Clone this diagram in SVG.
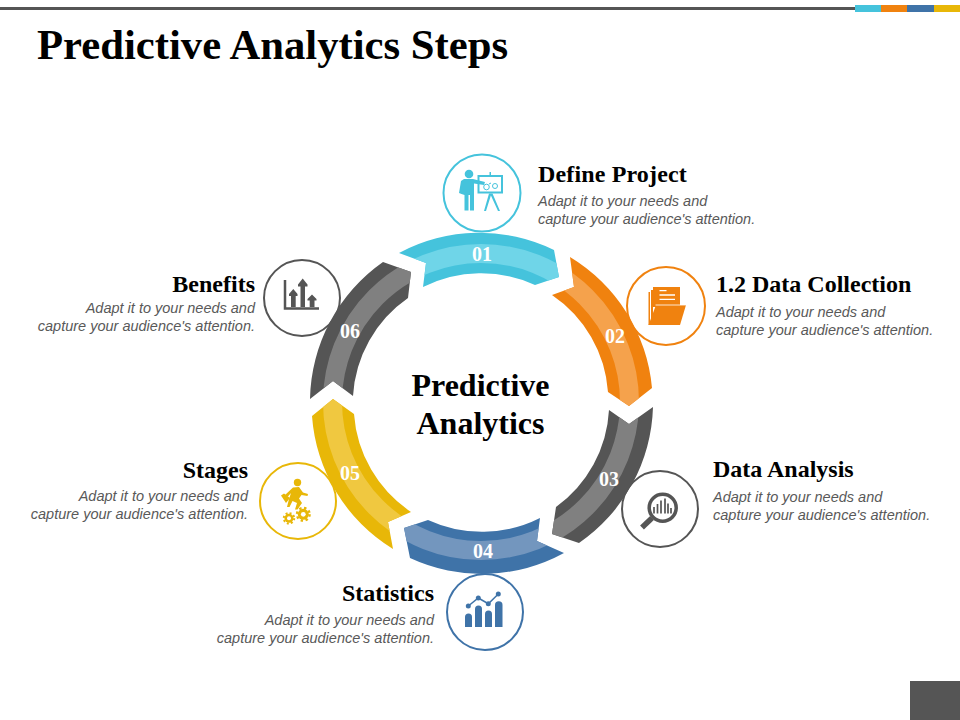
<svg xmlns="http://www.w3.org/2000/svg" width="960" height="720" viewBox="0 0 960 720">
<style>
.t{font-family:"Liberation Serif",serif;font-weight:bold;fill:#000}
.h{font-size:24px}
.b{font-family:"Liberation Sans",sans-serif;font-style:italic;font-size:14.5px;fill:#595959}
.n{font-family:"Liberation Serif",serif;font-weight:bold;font-size:20px;fill:#fff;text-anchor:middle}
.r{text-anchor:end}
.ring{fill:#fff;stroke-width:2}
.band{fill:none;stroke-width:19}
</style>
<defs>
<path id="s1" d="M399 253A170 170 0 0 1 554 250L559 277L535 285A129 129 0 0 0 423 287L426 263Z"/>
<path id="s2" d="M570 257A171 171 0 0 1 652 388L629 406L608 392A128 128 0 0 0 552 295L574 287Z"/>
<path id="s3" d="M653 407L629 424L609 410A128 128 0 0 1 556 507L552 534L579 543A171 171 0 0 0 653 407Z"/>
<path id="s4" d="M564 553L537 541L540 518A129 129 0 0 1 428 520L404 528L410 558A171 171 0 0 0 564 553Z"/>
<path id="s5" d="M393 549L388 522L411 512A129 129 0 0 1 354 414L333 399L312 416A170 170 0 0 0 393 549Z"/>
<path id="s6" d="M310 399L333 381L353 396A128 128 0 0 1 408 298L411 272L383 262A171 171 0 0 0 310 399Z"/>
<clipPath id="c1"><use href="#s1"/></clipPath>
<clipPath id="c2"><use href="#s2"/></clipPath>
<clipPath id="c3"><use href="#s3"/></clipPath>
<clipPath id="c4"><use href="#s4"/></clipPath>
<clipPath id="c5"><use href="#s5"/></clipPath>
<clipPath id="c6"><use href="#s6"/></clipPath>
</defs>
<rect width="960" height="720" fill="#fff"/>
<g id="header">
<rect x="0" y="7" width="855" height="3" fill="#555"/>
<rect x="855" y="5" width="26" height="7" fill="#45C3DC"/>
<rect x="881" y="5" width="26" height="7" fill="#F0820F"/>
<rect x="907" y="5" width="27" height="7" fill="#3F73A8"/>
<rect x="934" y="5" width="26" height="7" fill="#E8B708"/>
<rect x="910" y="681" width="50" height="39" fill="#555"/>
<text class="t" x="37" y="59" font-size="42.700">Predictive Analytics Steps</text>
</g>
<g id="node-1">
<circle class="ring" cx="482" cy="193" r="38.500" stroke="#45C3DC"/>
<g fill="#45C3DC" stroke="none">
<circle cx="469" cy="174" r="4.300"/>
<path d="M464 179H473L485 182L484 185L474 183.500V210.500H470V195H468.500V210.500H464.500V195L461.500 194L459 193L461 181Z"/>
<path d="M477.500 175H503V193.500H477.500ZM479.500 177V191.500H501V177Z"/>
<rect x="489.500" y="172" width="1.500" height="3.500"/>
<path d="M489 193.500H491.500L486 211H484ZM490 193.500H492.500L500 211H498Z"/>
</g>
<g fill="none" stroke="#45C3DC" stroke-width="1">
<circle cx="486.500" cy="187" r="2.800"/><circle cx="495" cy="186" r="2.500"/><path d="M489 184L491 183"/>
</g>
<text class="t h" x="538" y="182" letter-spacing=".15">Define Project</text>
<text class="b" x="538" y="206">Adapt it to your needs and</text>
<text class="b" x="538" y="224">capture your audience's attention.</text>
</g>
<g id="node-2">
<circle class="ring" cx="666" cy="306" r="39" stroke="#F0820F"/>
<g fill="#F0820F">
<path d="M648.500 325V292H650V325ZM651 325V290H653V325Z"/>
<rect x="653" y="287" width="27" height="20"/>
<path d="M656 305H686L680 325H648.500Z"/>
</g>
<path d="M659.500 290.700H666.500M659.500 295H675M659.500 299.300H675" stroke="#fff" stroke-width="1.300" fill="none"/>
<path d="M655.500 305H686" stroke="#fff" stroke-width=".8" fill="none"/>
<text class="t h" x="716" y="292">1.2 Data Collection</text>
<text class="b" x="716" y="317">Adapt it to your needs and</text>
<text class="b" x="716" y="335">capture your audience's attention.</text>
</g>
<g id="node-3">
<circle class="ring" cx="660" cy="509" r="38" stroke="#555"/>
<circle cx="662.700" cy="507.700" r="13.500" fill="none" stroke="#555" stroke-width="3.500"/>
<path d="M652 518L642 527.500" stroke="#555" stroke-width="5.500" fill="none"/>
<path d="M654 513.500V507M657.500 513.500V504M661 513.500V500.500M665 513.500V498.500M668 513.500V503.500M671 513.500V508" stroke="#555" stroke-width="1.700" fill="none"/>
<text class="t h" x="713" y="477">Data Analysis</text>
<text class="b" x="713" y="502">Adapt it to your needs and</text>
<text class="b" x="713" y="520">capture your audience's attention.</text>
</g>
<g id="node-4">
<circle class="ring" cx="485" cy="612" r="38" stroke="#3F73A8"/>
<g fill="#3F73A8">
<path d="M465 627V617A3.500 3.500 0 0 1 472 617V627Z"/>
<path d="M475 627V609A3.500 3.500 0 0 1 482 609V627Z"/>
<path d="M485 627V614A3.500 3.500 0 0 1 492 614V627Z"/>
<path d="M495 627V605A3.500 3.500 0 0 1 502.500 605V627Z"/>
<circle cx="468.300" cy="606" r="2.500"/><circle cx="478.300" cy="598" r="2.500"/><circle cx="488.300" cy="603.700" r="2.500"/><circle cx="498.300" cy="594" r="2.500"/>
</g>
<path d="M468.300 606L478.300 598L488.300 603.700L498.300 594" fill="none" stroke="#3F73A8" stroke-width="1.500"/>
<text class="t h r" x="434" y="601">Statistics</text>
<text class="b r" x="434" y="625">Adapt it to your needs and</text>
<text class="b r" x="434" y="643">capture your audience's attention.</text>
</g>
<g id="node-5">
<circle class="ring" cx="298" cy="501" r="38" stroke="#E8B708"/>
<g fill="#E8B708">
<circle cx="297.500" cy="482.500" r="3.700"/>
<path d="M293 487.500L299 487L303 492.500L308 494L307.500 496L301.500 495L299 498.500L302 503L297.500 509.500H295L297 503L292.500 501L289.500 507H287L289 499L291 493L287.500 497L285 495Z"/>
<path d="M281 495.500L284 493.500L290 498L286 503Z"/>
<circle cx="303.300" cy="514.300" r="5.500"/><circle cx="289" cy="518.300" r="4.500"/>
</g>
<circle cx="303.300" cy="514.300" r="2.400" fill="#fff"/><circle cx="289" cy="518.300" r="2" fill="#fff"/>
<circle cx="303.300" cy="514.300" r="6.300" fill="none" stroke="#E8B708" stroke-width="2.400" stroke-dasharray="2.400 2.550"/>
<circle cx="289" cy="518.300" r="5.200" fill="none" stroke="#E8B708" stroke-width="2" stroke-dasharray="2 2.080"/>
<text class="t h r" x="248" y="478">Stages</text>
<text class="b r" x="248" y="501">Adapt it to your needs and</text>
<text class="b r" x="248" y="519">capture your audience's attention.</text>
</g>
<g id="node-6">
<circle class="ring" cx="302" cy="298" r="38" stroke="#555"/>
<path d="M285 280V308.500H319" fill="none" stroke="#555" stroke-width="2.500"/>
<path d="M293.300 289L297.500 294V296H295.700V307H291V296H289V294Z" fill="#555"/>
<path d="M302.700 278.500L307.500 284.500V286.500H305V307H300.500V286.500H298V284.500Z" fill="#555"/>
<path d="M312 294.500L316.500 299V300.500H314.500V307H309.700V300.500H307.500V299Z" fill="#555"/>
<text class="t h r" x="255" y="292">Benefits</text>
<text class="b r" x="255" y="313">Adapt it to your needs and</text>
<text class="b r" x="255" y="331">capture your audience's attention.</text>
</g>
<g id="connectors">
<use href="#s1" fill="#45C3DC"/><circle cx="481" cy="402" r="148.500" class="band" stroke="#6FD5E8" clip-path="url(#c1)"/>
<use href="#s2" fill="#F0820F"/><circle cx="481" cy="402" r="148.500" class="band" stroke="#F5A24C" clip-path="url(#c2)"/>
<use href="#s3" fill="#555"/><circle cx="481" cy="402" r="148.500" class="band" stroke="#808080" clip-path="url(#c3)"/>
<use href="#s4" fill="#3F73A8"/><circle cx="481" cy="402" r="148.500" class="band" stroke="#7396BE" clip-path="url(#c4)"/>
<use href="#s5" fill="#E8B708"/><circle cx="481" cy="402" r="148.500" class="band" stroke="#F0C840" clip-path="url(#c5)"/>
<use href="#s6" fill="#555"/><circle cx="481" cy="402" r="148.500" class="band" stroke="#808080" clip-path="url(#c6)"/>
<text class="n" x="482" y="261">01</text>
<text class="n" x="615" y="343">02</text>
<text class="n" x="609" y="486">03</text>
<text class="n" x="483" y="558">04</text>
<text class="n" x="350" y="480">05</text>
<text class="n" x="350" y="338">06</text>
</g>
<g id="center">
<text class="t" x="480.500" y="396" font-size="32" text-anchor="middle">Predictive</text>
<text class="t" x="480.500" y="434" font-size="32" text-anchor="middle">Analytics</text>
</g>
</svg>
